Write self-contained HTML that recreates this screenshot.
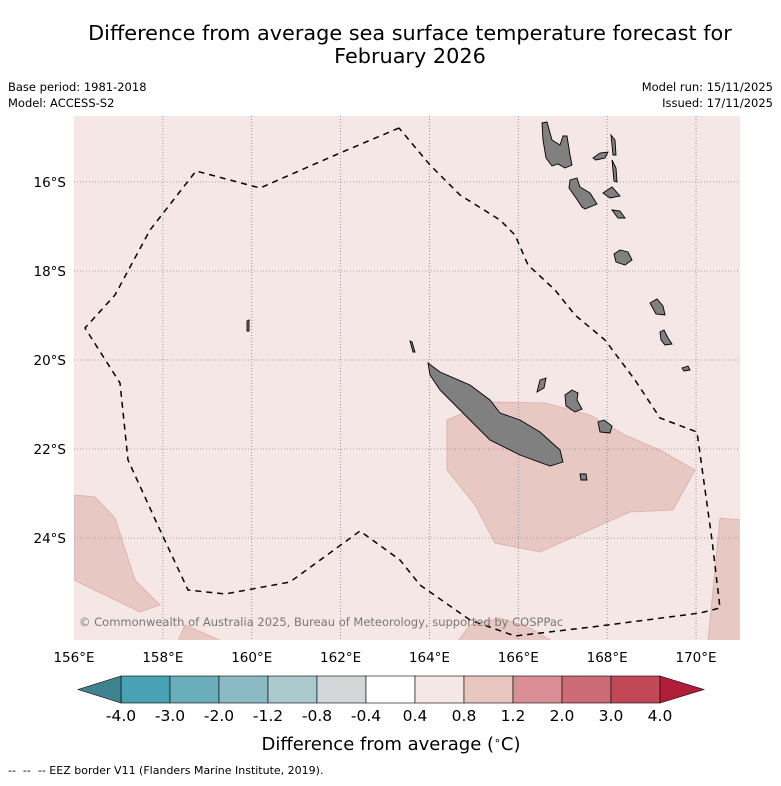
<!DOCTYPE html>
<html><head><meta charset="utf-8"><style>
body{margin:0;background:#fff;width:781px;height:781px;overflow:hidden;font-family:"Liberation Sans","DejaVu Sans",sans-serif;}
svg text{font-family:"DejaVu Sans","Liberation Sans",sans-serif;}
</style></head><body>
<svg width="781" height="781" viewBox="0 0 781 781">
<text x="410" y="40" text-anchor="middle" font-size="20.8" fill="#000">Difference from average sea surface temperature forecast for</text>
<text x="410" y="63" text-anchor="middle" font-size="20.8" fill="#000">February 2026</text>
<text x="8" y="91" font-size="11.5">Base period: 1981-2018</text>
<text x="8" y="107" font-size="11.5">Model: ACCESS-S2</text>
<text x="773" y="91" font-size="11.5" text-anchor="end">Model run: 15/11/2025</text>
<text x="773" y="107" font-size="11.5" text-anchor="end">Issued: 17/11/2025</text>
<defs><clipPath id="mc"><rect x="74" y="116" width="666" height="524"/></clipPath></defs>
<g clip-path="url(#mc)">
<rect x="74" y="116" width="666" height="524" fill="#f4e7e5"/>
<g fill="#e8c8c3" stroke="#d9aeaa" stroke-width="0.8">
<polygon points="447,420 470,410 493,402 545,403 590,415 625,435 660,450 695,470 673,510 630,512 540,552 495,543 475,505 447,470"/>
<polygon points="74,495 95,497 115,518 135,580 160,605 140,612 74,580"/>
<polygon points="741,520 720,518 708,641 741,641"/>
<polygon points="178,641 185,625 222,641"/>
<polygon points="458,641 470,625 500,618 530,628 552,641"/>
</g>
<g id="grid"></g>
<polyline fill="none" stroke="#000" stroke-width="1.5" stroke-dasharray="6,5" points="399,128 340,153 260,188 196,171 150,230 115,295 85,328 120,383 128,460 160,530 188,590 225,594 290,582 360,531 400,560 420,585 470,620 515,636 600,626 700,613 720,608 712,540 697,432 660,418 635,380 605,340 575,315 555,290 528,265 515,235 500,220 460,195 430,165 399,128"/>
<g fill="#808080" stroke="#000" stroke-width="0.9">
<polygon points="428,363 440,372 470,385 490,400 500,413 520,420 540,432 560,450 563,462 550,466 520,455 490,440 470,420 455,405 440,390 430,375"/>
<polygon points="542,123 547,122 552,140 560,145 563,136 567,136 570,155 572,165 565,168 558,164 552,166 546,158 543,140"/>
<polygon points="570,180 577,178 580,187 590,193 597,204 585,209 582,207 576,198 569,188"/>
<polygon points="593,158 600,153 608,152 605,158 596,160"/>
<polygon points="611,135 615,140 616,155 613,155"/>
<polygon points="612,160 616,168 617,182 614,181"/>
<polygon points="603,193 612,187 620,196 610,198"/>
<polygon points="612,210 620,211 625,218 618,218"/>
<polygon points="614,254 620,250 628,252 632,260 625,265 616,262"/>
<polygon points="650,303 657,299 663,306 665,315 656,314"/>
<polygon points="660,332 664,330 668,338 672,344 665,345 661,340"/>
<polygon points="682,368 688,366 690,370 684,371"/>
<polygon points="540,380 546,378 544,388 537,392"/>
<polygon points="565,395 572,390 578,393 577,400 582,409 575,412 566,406"/>
<polygon points="598,422 604,420 612,426 610,433 600,432"/>
<polygon points="580,474 586,474 587,480 581,480"/>
<polygon points="410,341 412,342 415,352 413,352"/>
<polygon points="247,321 249,320 249,331 247,331"/>
</g>
<text x="79" y="626" font-size="11.5" fill="#777">© Commonwealth of Australia 2025, Bureau of Meteorology, supported by COSPPac</text>
</g>
<g id="axes" font-size="13.5"></g>
<g id="cbar"></g>
<text x="391" y="750" text-anchor="middle" font-size="18">Difference from average (<tspan baseline-shift="super" font-size="11">∘</tspan>C)</text>
<text x="8" y="774" font-size="11" xml:space="preserve">--  --  -- EEZ border V11 (Flanders Marine Institute, 2019).</text>
</svg>
<script>
const lonTicks=[156,158,160,162,164,166,168,170];
const latTicks=[16,18,20,22,24];
const cbarBounds=["-4.0","-3.0","-2.0","-1.2","-0.8","-0.4","0.4","0.8","1.2","2.0","3.0","4.0"];
const cbarColors=["#48a2b3","#6aaebb","#8bbac5","#a9c9cd","#d3d7d7","#ffffff","#f4e7e5","#e8c6c1","#d98f95","#cc6a75","#c24858"];
const NS="http://www.w3.org/2000/svg";
function xLon(l){return 74+(l-156)*44.43;}
function yLat(l){return 182+(l-16)*44.5;}
function mk(t,a,p){const e=document.createElementNS(NS,t);for(const k in a)e.setAttribute(k,a[k]);p.appendChild(e);return e;}
const grid=document.getElementById('grid'),axes=document.getElementById('axes'),cb=document.getElementById('cbar');
lonTicks.forEach(l=>{
 const x=xLon(l);
 if(l>156){const g=mk('line',{x1:x,x2:x,y1:116,y2:640,stroke:'#7a8898','stroke-width':0.8,'stroke-dasharray':'1,2'},grid);
 
 }
 const t=mk('text',{x:x,y:662,'text-anchor':'middle'},axes);t.textContent=l+'°E';
 
 
});
latTicks.forEach(l=>{
 const y=yLat(l);
 const g=mk('line',{x1:74,x2:740,y1:y,y2:y,stroke:'#a08c8c','stroke-width':0.8,'stroke-dasharray':'1,2'},grid);
 
 
 const t=mk('text',{x:66,y:y+5,'text-anchor':'end'},axes);t.textContent=l+'°S';
 
 
});
const x0=121,w=49,yt=676,h=27;
cbarColors.forEach((c,i)=>{
 const r=mk('rect',{x:x0+i*w,y:yt,width:w,height:h,fill:c,stroke:'#000','stroke-width':0.6},cb);
 
 
});
const lt=mk('polygon',{points:`${x0},${yt} ${x0},${yt+h} 78,${yt+h/2}`,fill:'#3d8490',stroke:'#000','stroke-width':0.6},cb);


const xe=x0+cbarColors.length*w;
const rt=mk('polygon',{points:`${xe},${yt} ${xe},${yt+h} 704,${yt+h/2}`,fill:'#b01e3a',stroke:'#000','stroke-width':0.6},cb);


cbarBounds.forEach((b,i)=>{
 const t=mk('text',{x:x0+i*w,y:721,'text-anchor':'middle','font-size':15.5},cb);t.textContent=b;
 
 
});
</script>
</body></html>
